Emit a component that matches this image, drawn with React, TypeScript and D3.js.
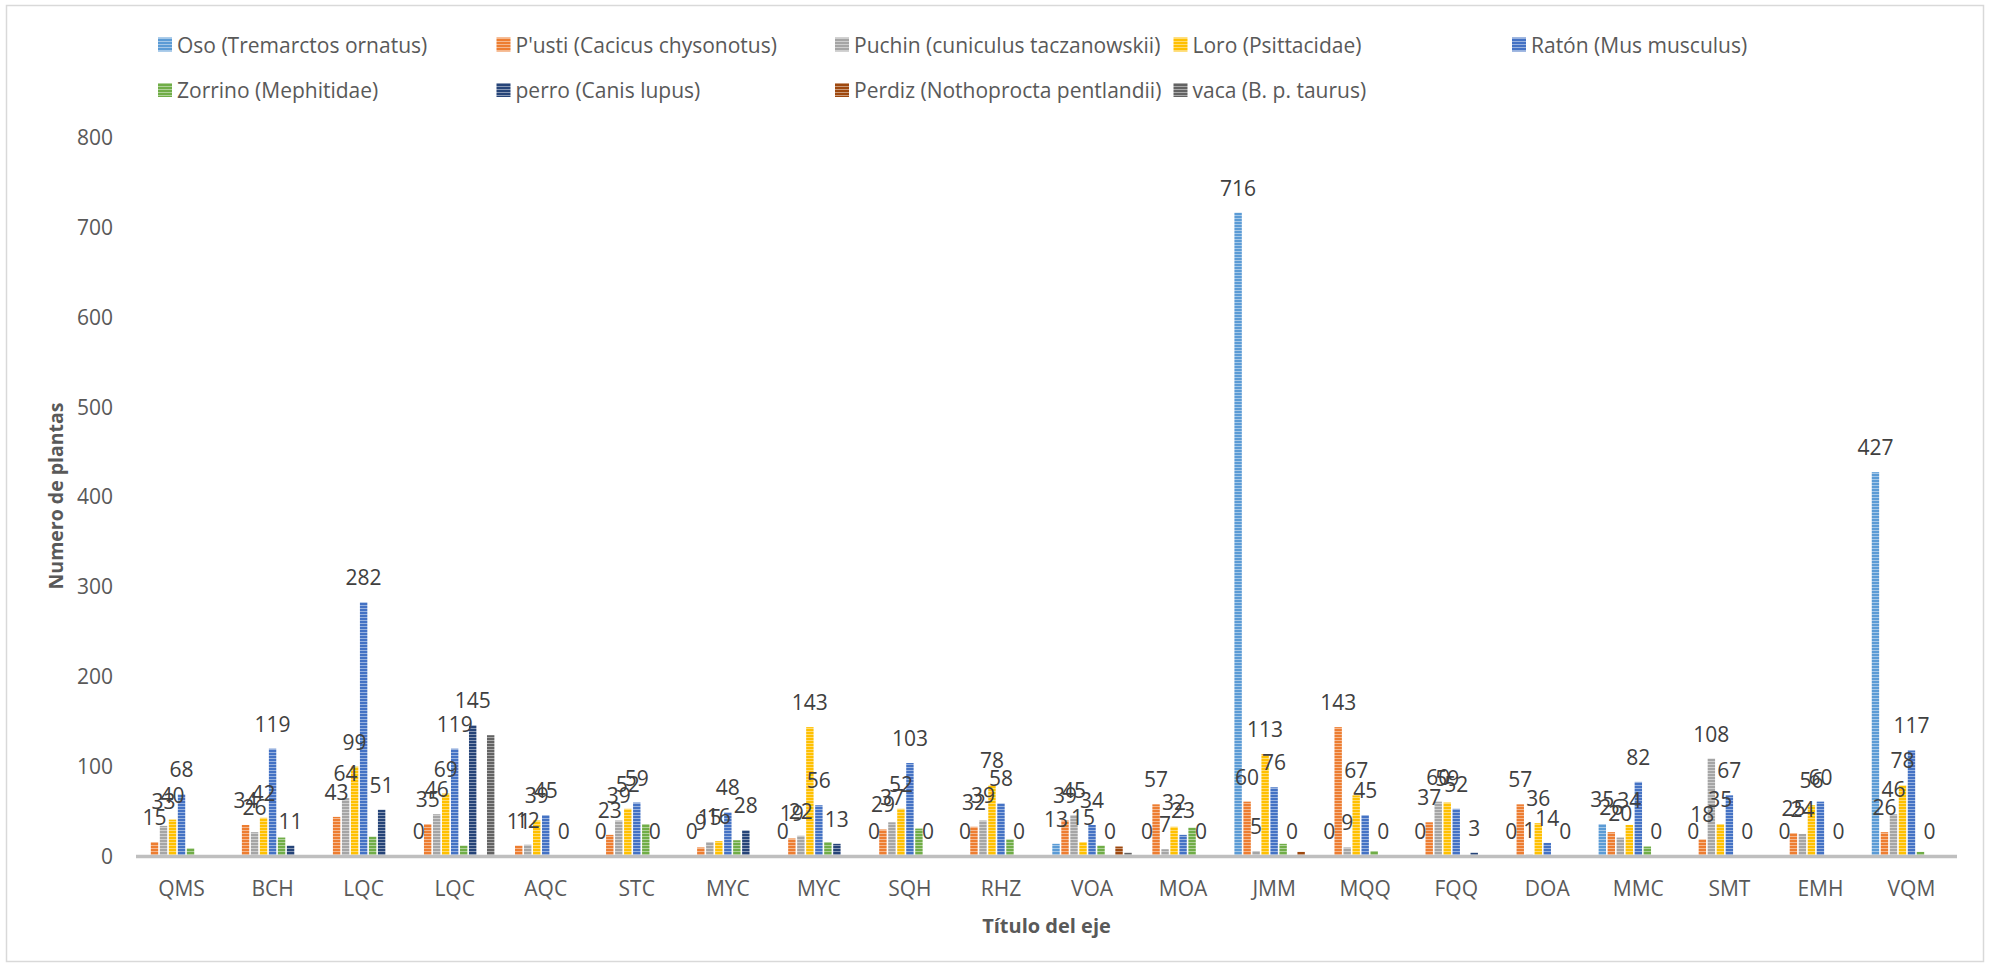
import React from 'react';
import * as d3 from 'd3';

const categories = ['QMS','BCH','LQC','LQC','AQC','STC','MYC','MYC','SQH','RHZ','VOA','MOA','JMM','MQQ','FQQ','DOA','MMC','SMT','EMH','VQM'];

const seriesNames = [
  'Oso (Tremarctos ornatus)',
  "P'usti (Cacicus chysonotus)",
  'Puchin (cuniculus taczanowskii)',
  'Loro (Psittacidae)',
  'Ratón (Mus musculus)',
  'Zorrino (Mephitidae)',
  'perro (Canis lupus)',
  'Perdiz (Nothoprocta pentlandii)',
  'vaca (B. p. taurus)',
];

const seriesColors = ['#5B9BD5','#ED7D31','#A5A5A5','#FFC000','#4472C4','#70AD47','#264478','#9E480E','#636363'];

type V = number | null;
const oso: V[] =     [null,null,null,0,null,0,0,0,0,0,13,0,716,0,0,0,35,0,0,427];
const pusti: V[] =   [15,34,43,35,11,23,9,19,29,32,39,57,60,143,37,57,26,18,25,26];
const puchin: V[] =  [33,26,64,46,12,39,15,22,37,39,45,7,5,9,60,1,20,108,24,46];
const loro: V[] =    [40,42,99,69,39,52,16,143,52,78,15,32,113,67,59,36,34,35,56,78];
const raton: V[] =   [68,119,282,119,45,59,48,56,103,58,34,23,76,45,52,14,82,67,60,117];
const zorrino: V[] = [8,20,21,11,null,35,17,15,30,18,11,31,13,5,null,null,10,null,null,4];
const perro: V[] =   [null,11,51,145,0,0,28,13,0,0,0,0,0,0,3,0,0,0,0,0];
const perdiz: V[] =  [null,null,null,null,null,null,null,null,null,null,10,null,4,null,null,null,null,null,null,null];
const vaca: V[] =    [null,null,null,134,null,null,null,null,null,null,3,null,null,null,null,null,null,null,null,null];

const seriesValues: V[][] = [oso, pusti, puchin, loro, raton, zorrino, perro, perdiz, vaca];
const seriesLabeled = [true, true, true, true, true, false, true, false, false];

const yTicks = [0, 100, 200, 300, 400, 500, 600, 700, 800];
const yTitle = 'Numero de plantas';
const xTitle = 'Título del eje';

const W = 1994;
const H = 967;
const FONT = "'Open Sans', 'Noto Sans', sans-serif";
const TEXT = '#595959';

export default function App() {
  const x0 = d3.scaleBand<number>()
    .domain(categories.map((_, i) => i))
    .range([136, 1957])
    .paddingInner(0.11)
    .paddingOuter(0.055);
  const x1 = d3.scaleBand<number>()
    .domain(seriesNames.map((_, i) => i))
    .range([0, x0.bandwidth()])
    .padding(0);
  const y = d3.scaleLinear().domain([0, 800]).range([855.5, 137.3]);

  const legendCols = [158, 496.5, 835, 1173.5, 1512];
  const legendRows = [44.5, 90];

  return (
    <svg width={W} height={H} style={{ position: 'absolute', left: 0, top: 0, background: '#fff' }} fontFamily={FONT}>
      <defs>
        {seriesColors.map((c, i) => (
          <pattern key={i} id={`pat${i}`} width={4} height={3} patternUnits="userSpaceOnUse">
            <rect width={4} height={3} fill={c} />
            <rect y={2} width={4} height={1} fill="#ffffff" opacity={0.45} />
          </pattern>
        ))}
      </defs>
      <rect x={0} y={0} width={W} height={H} fill="#fff" />
      <rect x={6.5} y={5.5} width={1977} height={956} fill="none" stroke="#D9D9D9" strokeWidth={1.5} />

      {/* legend */}
      {seriesNames.map((name, i) => {
        const col = i < 5 ? i : i - 5;
        const row = i < 5 ? 0 : 1;
        const lx = legendCols[col];
        const ly = legendRows[row];
        return (
          <g key={name}>
            <rect x={lx} y={ly - 7} width={14} height={14} fill={`url(#pat${i})`} />
            <text x={lx + 19} y={ly} dominantBaseline="central" fontSize={21} fill={TEXT}>{name}</text>
          </g>
        );
      })}

      {/* y ticks */}
      {yTicks.map(t => (
        <text key={t} x={113} y={y(t)} textAnchor="end" dominantBaseline="central" fontSize={21} fill={TEXT}>{t}</text>
      ))}

      {/* bars */}
      {seriesValues.map((vals, s) => (
        <g key={s}>
          {vals.map((v, c) => {
            if (v === null || v === 0) return null;
            const bx = (x0(c) as number) + (x1(s) as number);
            return (
              <rect key={c} x={bx + 0.8} width={x1.bandwidth() - 1.6} y={y(v)} height={y(0) - y(v)} fill={`url(#pat${s})`} />
            );
          })}
        </g>
      ))}

      {/* axis line */}
      <line x1={136} x2={1957} y1={856.5} y2={856.5} stroke="#BFBFBF" strokeWidth={3.5} />

      {/* data labels */}
      {seriesValues.map((vals, s) => seriesLabeled[s] ? (
        <g key={`l${s}`}>
          {vals.map((v, c) => {
            if (v === null) return null;
            const cx = (x0(c) as number) + (x1(s) as number) + x1.bandwidth() / 2;
            return (
              <text key={c} x={cx} y={y(v) - 17} textAnchor="middle" fontSize={21} fill="#404040">{v}</text>
            );
          })}
        </g>
      ) : null)}

      {/* category labels */}
      {categories.map((cat, i) => (
        <text key={i} x={(x0(i) as number) + x0.bandwidth() / 2} y={888} textAnchor="middle" dominantBaseline="central" fontSize={21} fill={TEXT}>{cat}</text>
      ))}

      {/* titles */}
      <text x={1046.5} y={925} textAnchor="middle" dominantBaseline="central" fontSize={20} fontWeight="bold" fill={TEXT}>{xTitle}</text>
      <text transform={`translate(55,496) rotate(-90)`} textAnchor="middle" dominantBaseline="central" fontSize={19.5} fontWeight="bold" fill={TEXT}>{yTitle}</text>
    </svg>
  );
}
